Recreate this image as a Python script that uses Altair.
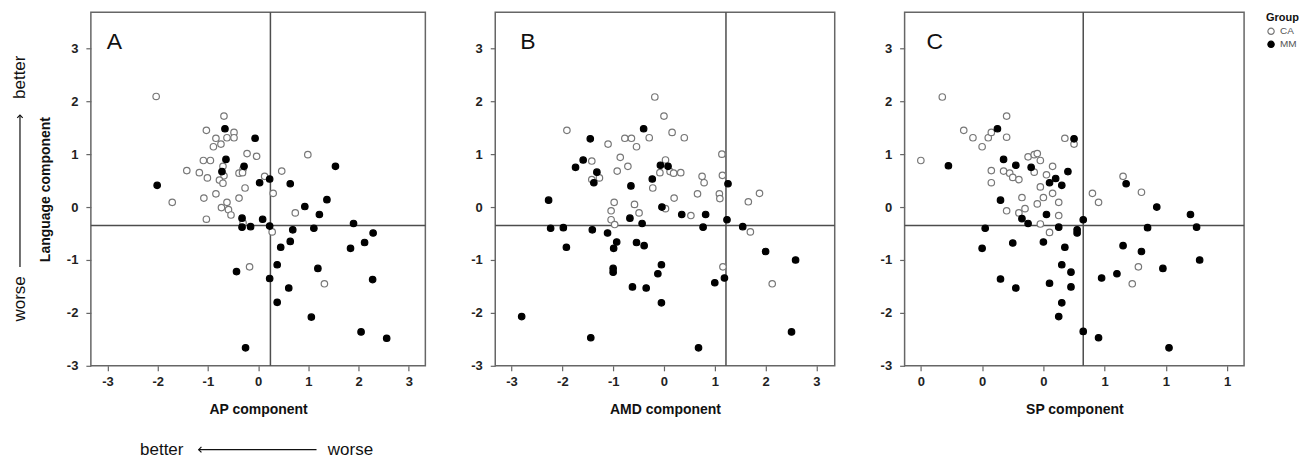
import altair as alt
import pandas as pd

# ---------------- data ----------------
groups = ["CA", "MM"]
y_ticks = [-3, -2, -1, 0, 1, 2, 3]

# Panel A: AP component
A_CA_x = [-2.03, -0.68, -1.03, -0.84, -0.62, -0.48, -0.48, -0.74, -0.89, -0.22, -0.03, -1.09, -0.95, -0.70,
          -0.30, -1.42, -1.17, -0.38, -0.31, -1.01, -0.68, -0.77, -0.70, 0.13, -0.26, 0.47, 0.99, 0.30, -0.84,
          -1.08, -0.38, -1.71, -0.62, -0.73, -0.59, -0.54, -1.03, 0.28, 0.74, -0.17, 1.32, -0.30]
A_CA_y = [2.09, 1.72, 1.45, 1.30, 1.31, 1.41, 1.31, 1.19, 1.14, 1.01, 0.96, 0.88, 0.88, 0.77,
          0.72, 0.69, 0.65, 0.64, 0.65, 0.55, 0.59, 0.51, 0.45, 0.58, 0.36, 0.68, 0.99, 0.26, 0.25,
          0.17, 0.17, 0.09, 0.09, -0.01, -0.05, -0.15, -0.23, -0.47, -0.11, -1.13, -1.45, -0.30]
A_MM_x = [-0.66, -0.06, -0.64, -0.28, -0.72, 0.23, 0.03, 0.64, 1.54, -2.01, 1.37, -0.32, -0.32, -0.15, 0.09,
          0.23, 0.93, 1.22, 1.11, 0.69, 1.90, 2.29, 2.12, 1.84, 0.64, 0.45, 0.38, -0.43, 1.19, 0.23, 2.28,
          0.61, 0.38, 1.06, 2.05, 2.56, -0.25]
A_MM_y = [1.48, 1.30, 0.90, 0.77, 0.67, 0.53, 0.46, 0.44, 0.77, 0.41, 0.14, -0.21, -0.38, -0.37, -0.23,
          -0.36, 0.01, -0.14, -0.40, -0.43, -0.31, -0.49, -0.67, -0.78, -0.65, -0.76, -1.09, -1.22, -1.16,
          -1.35, -1.37, -1.53, -1.80, -2.08, -2.36, -2.48, -2.66]

# Panel B: AMD component
B_CA_x = [-0.18, 0.00, -1.91, 0.16, 0.40, -0.77, -0.64, -0.29, -1.10, -0.54, 1.14, -0.86, -1.42, -0.71, 0.03,
          -0.92, -0.08, 0.12, 0.19, 0.33, -1.42, -1.27, 0.75, 1.15, 0.79, -0.22, 0.66, 0.20, 1.09, 1.10, 1.88,
          1.66, -0.98, -0.58, -1.04, -0.49, -1.04, -0.97, 0.03, 0.53, 1.70, 1.16, 2.13]
B_CA_y = [2.08, 1.72, 1.45, 1.41, 1.31, 1.30, 1.30, 1.31, 1.19, 1.14, 1.00, 0.94, 0.87, 0.77, 0.89,
          0.68, 0.65, 0.67, 0.64, 0.65, 0.52, 0.55, 0.58, 0.60, 0.46, 0.36, 0.25, 0.17, 0.25, 0.16, 0.26,
          0.10, 0.09, 0.05, -0.07, -0.11, -0.24, -0.33, -0.03, -0.16, -0.47, -1.13, -1.45]
B_MM_x = [-0.40, -1.45, -1.59, -1.74, -0.07, 0.08, -1.32, -1.38, -0.23, -0.65, 1.26, -2.27, -0.67, -0.43,
          -0.04, 0.35, 0.82, 0.77, 1.24, 1.55, -2.23, -1.98, -1.41, -1.11, -0.93, -0.99, -0.54, -0.39, -1.92,
          2.00, 2.59, -0.05, -1.00, -1.00, -0.12, 1.19, 1.00, -0.62, -0.35, -0.05, -2.80, -1.44, 2.51, 0.68]
B_MM_y = [1.48, 1.29, 0.89, 0.75, 0.79, 0.77, 0.66, 0.46, 0.53, 0.40, 0.44, 0.13, -0.21, -0.31,
          0.00, -0.14, -0.14, -0.38, -0.24, -0.37, -0.40, -0.39, -0.43, -0.49, -0.66, -0.78, -0.67, -0.73, -0.76,
          -0.84, -1.00, -1.09, -1.16, -1.23, -1.26, -1.34, -1.43, -1.51, -1.53, -1.81, -2.07, -2.47, -2.36, -2.66]

# Panel C: SP component
C_CA_x = [0.00, 0.07, 0.14, 0.17, 0.20, 0.22, 0.23, 0.28, 0.28, 0.23, 0.23, 0.27, 0.29, 0.30, 0.32, 0.35,
          0.37, 0.38, 0.39, 0.37, 0.43, 0.41, 0.47, 0.50, 0.39, 0.33, 0.40, 0.43, 0.38, 0.45, 0.56, 0.58,
          0.66, 0.72, 0.28, 0.32, 0.34, 0.45, 0.39, 0.42, 0.71, 0.69]
C_CA_y = [0.88, 2.08, 1.45, 1.31, 1.14, 1.31, 1.41, 1.72, 1.32, 0.69, 0.46, 0.68, 0.64, 0.56, 0.52, 0.95,
          0.99, 1.01, 0.88, 0.66, 0.77, 0.61, 1.30, 1.19, 0.38, 0.18, 0.18, 0.26, 0.06, 0.09, 0.26, 0.09,
          0.58, 0.28, -0.07, -0.11, -0.03, -0.16, -0.32, -0.48, -1.13, -1.45]
C_MM_x = [0.09, 0.25, 0.27, 0.31, 0.36, 0.44, 0.42, 0.46, 0.48, 0.50, 0.26, 0.67, 0.77, 0.41, 0.33, 0.35,
          0.45, 0.51, 0.51, 0.53, 0.88, 0.90, 0.74, 0.21, 0.20, 0.30, 0.40, 0.47, 0.66, 0.72, 0.91, 0.46,
          0.79, 0.49, 0.64, 0.59, 0.26, 0.42, 0.31, 0.49, 0.46, 0.45, 0.53, 0.58, 0.81]
C_MM_y = [0.78, 1.48, 0.90, 0.79, 0.75, 0.54, 0.46, 0.41, 0.67, 1.29, 0.13, 0.44, 0.00, -0.14, -0.22, -0.31,
          -0.38, -0.43, -0.49, -0.24, -0.14, -0.38, -0.39, -0.40, -0.78, -0.68, -0.66, -0.76, -0.73, -0.84, -1.00,
          -1.09, -1.16, -1.23, -1.26, -1.34, -1.36, -1.44, -1.53, -1.51, -1.81, -2.07, -2.35, -2.47, -2.66]

# Reference lines
h_line = -0.35
A_vline, B_vline, C_vline = 0.245, 1.22, 0.53

A_xticks = [-3, -2, -1, 0, 1, 2, 3]
B_xticks = [-3, -2, -1, 0, 1, 2, 3]
C_xticks = [0, 0.2, 0.4, 0.6, 0.8, 1.0]

FONT = "Liberation Sans"
H = 354
INT_LABEL = "toString(round(datum.value))"


def frame(cx, cy, cm, cmy):
    return pd.DataFrame({
        "x": list(cx) + list(cm),
        "y": list(cy) + list(cmy),
        "Group": ["CA"] * len(cx) + ["MM"] * len(cm),
    })


def panel(df, xdom, vline, letter, letter_x, xtitle, xticks, width, ytitle=None, label_pad=8):
    xenc = alt.X("x:Q", scale=alt.Scale(domain=xdom, nice=False, zero=False),
                 axis=alt.Axis(title=xtitle, values=xticks, labelExpr=INT_LABEL, labelPadding=5,
                               titlePadding=14))
    if ytitle is not None:
        yaxis = alt.Axis(values=y_ticks, labelExpr=INT_LABEL, title=ytitle, labelPadding=label_pad,
                         titlePadding=14)
    else:
        yaxis = alt.Axis(values=y_ticks, labelExpr=INT_LABEL, title=None, labelPadding=label_pad)
    yenc = alt.Y("y:Q", scale=alt.Scale(domain=[-3, 3.68], nice=False, zero=False), axis=yaxis)

    pts = alt.Chart(df).mark_circle(size=42, strokeWidth=1.2, opacity=1).encode(
        x=xenc, y=yenc,
        fill=alt.Fill("Group:N", scale=alt.Scale(domain=groups, range=["white", "black"]),
                      legend=alt.Legend(title="Group")),
        stroke=alt.Stroke("Group:N", scale=alt.Scale(domain=groups, range=["#777777", "black"]),
                          legend=alt.Legend(title="Group")),
    )
    vr = alt.Chart(pd.DataFrame({"x": [vline]})).mark_rule(color="#4d4d4d", strokeWidth=1.5).encode(x=xenc)
    hr = alt.Chart(pd.DataFrame({"y": [h_line]})).mark_rule(color="#4d4d4d", strokeWidth=1.5).encode(y=yenc)
    lt = alt.Chart(pd.DataFrame({"t": [letter]})).mark_text(
        font=FONT, fontSize=23, align="left", baseline="alphabetic", color="#111"
    ).encode(text="t:N", x=alt.value(letter_x), y=alt.value(37))
    return alt.layer(hr, vr, pts, lt).properties(width=width, height=H)


dfA = frame(A_CA_x, A_CA_y, A_MM_x, A_MM_y)
dfB = frame(B_CA_x, B_CA_y, B_MM_x, B_MM_y)
dfC = frame(C_CA_x, C_CA_y, C_MM_x, C_MM_y)

pA = panel(dfA, [-3.33, 3.33], A_vline, "A", 16, "AP component", A_xticks, 335, ytitle="Language component")
pB = panel(dfB, [-3.32, 3.36], B_vline, "B", 25, "AMD component", B_xticks, 340)
pC = panel(dfC, [-0.053, 1.055], C_vline, "C", 22, "SP component", C_xticks, 340)

# direction annotations around panel A
left_txt = alt.Chart(pd.DataFrame({"t": ["better"]})).mark_text(
    font=FONT, fontSize=17, angle=270, baseline="middle", align="center", color="#111"
).encode(text="t:N", x=alt.value(-71), y=alt.value(65))
left_txt2 = alt.Chart(pd.DataFrame({"t": ["worse"]})).mark_text(
    font=FONT, fontSize=17, angle=270, baseline="middle", align="center", color="#111"
).encode(text="t:N", x=alt.value(-71), y=alt.value(287))
left_line = alt.Chart(pd.DataFrame({"t": [0]})).mark_rule(color="#111", strokeWidth=1.2).encode(
    x=alt.value(-71), y=alt.value(103), y2=alt.value(255))
left_head = alt.Chart(pd.DataFrame({"t": [0]})).mark_point(
    shape="M-1,1L0,0L1,1", size=30, filled=False, color="#111", strokeWidth=1.2, opacity=1
).encode(x=alt.value(-71), y=alt.value(103))

bot_txt = alt.Chart(pd.DataFrame({"t": ["better"]})).mark_text(
    font=FONT, fontSize=17, baseline="middle", align="center", color="#111"
).encode(text="t:N", x=alt.value(71), y=alt.value(438))
bot_txt2 = alt.Chart(pd.DataFrame({"t": ["worse"]})).mark_text(
    font=FONT, fontSize=17, baseline="middle", align="center", color="#111"
).encode(text="t:N", x=alt.value(260), y=alt.value(438))
bot_line = alt.Chart(pd.DataFrame({"t": [0]})).mark_rule(color="#111", strokeWidth=1.2).encode(
    x=alt.value(108), x2=alt.value(226), y=alt.value(438))
bot_head = alt.Chart(pd.DataFrame({"t": [0]})).mark_point(
    shape="M1,-1L0,0L1,1", size=30, filled=False, color="#111", strokeWidth=1.2, opacity=1
).encode(x=alt.value(108), y=alt.value(438))

pA_full = alt.layer(pA, left_txt, left_txt2, left_line, left_head, bot_txt, bot_txt2, bot_line, bot_head)

chart = alt.hconcat(pA_full, pB, pC, spacing=42).properties(
    padding={"left": 2, "top": 2, "right": 0, "bottom": 0}
).configure_view(
    stroke="#666666", strokeWidth=1.5
).configure_axis(
    domain=False, grid=False, tickSize=5, tickColor="#666666", tickWidth=1.2,
    labelFont=FONT, labelFontSize=13, labelFontWeight="bold", labelColor="#222",
    titleFont=FONT, titleFontSize=14, titleFontWeight="bold", titleColor="#111"
).configure_legend(
    orient="right", offset=20, padding=0, titleFont=FONT, titleFontSize=11, titleFontWeight="bold",
    titleColor="#111", labelFont=FONT, labelFontSize=10, labelColor="#555", symbolSize=40,
    rowPadding=1, titlePadding=3, symbolStrokeWidth=1.2
)

chart.save("out.html", embed_options={"renderer": "svg", "actions": False})
